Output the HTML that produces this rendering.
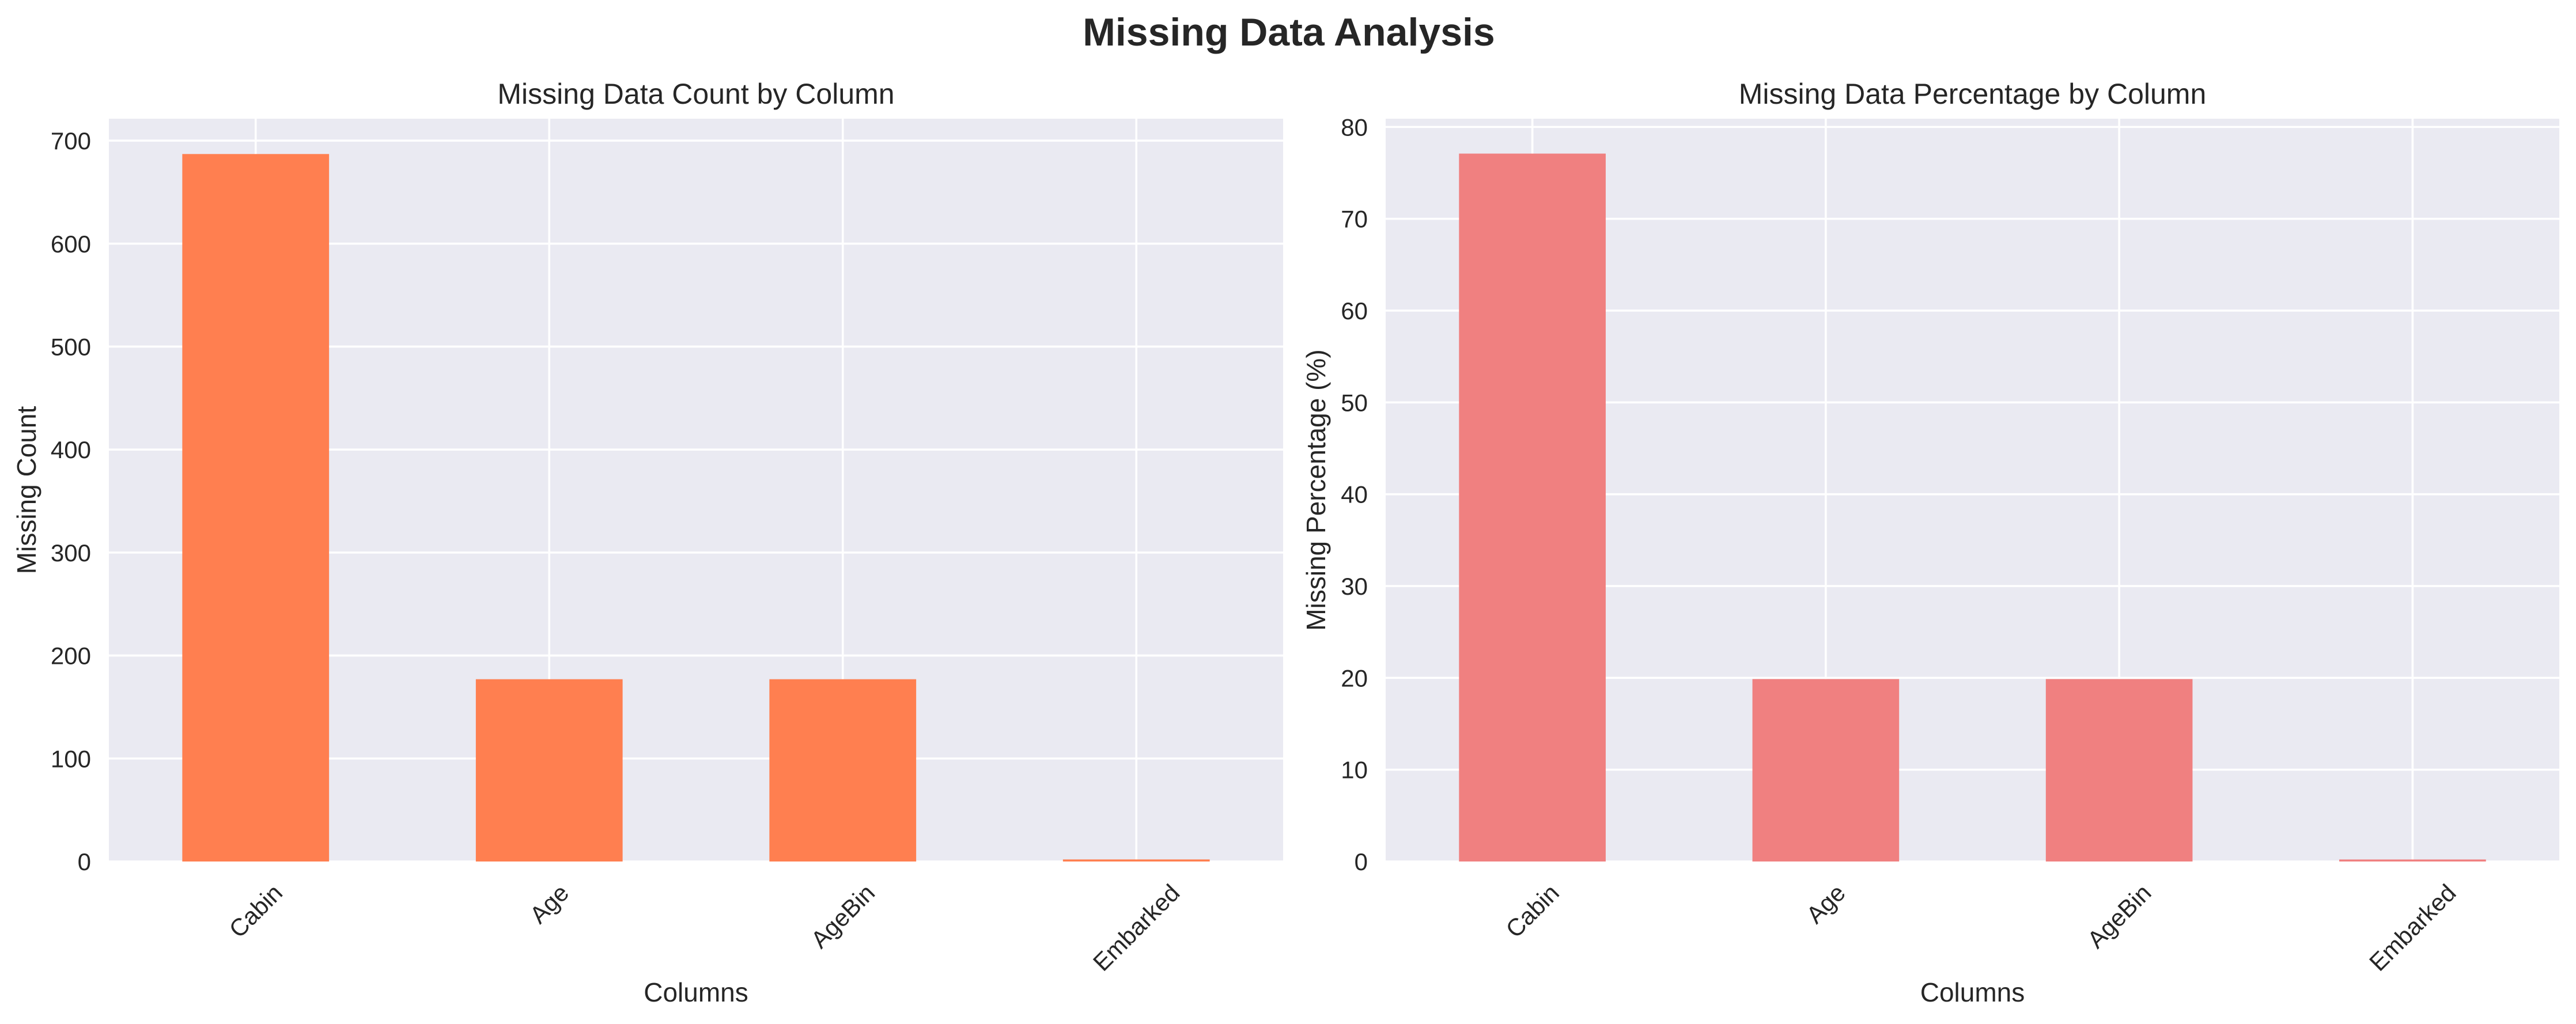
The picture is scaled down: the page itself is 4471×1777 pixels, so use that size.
<!DOCTYPE html>
<html><head><meta charset="utf-8">
<style>
html,body{margin:0;padding:0;background:#fff;}
svg{display:block;font-family:"Liberation Sans",Arial,sans-serif;}
</style></head>
<body>
<svg id="chart" width="4471" height="1777" viewBox="0 0 4471 1777" xmlns="http://www.w3.org/2000/svg">
<text x="2237" y="79" text-anchor="middle" font-size="68" font-weight="bold" fill="#262626">Missing Data Analysis</text>
</svg>
<script>
const categories = ["Cabin", "Age", "AgeBin", "Embarked"];
const countValues = [687, 177, 177, 2];
const pctValues = [77.10, 19.87, 19.87, 0.22];
const countTicks = [0, 100, 200, 300, 400, 500, 600, 700];
const pctTicks = [0, 10, 20, 30, 40, 50, 60, 70, 80];

const NS = "http://www.w3.org/2000/svg";
const svg = document.getElementById("chart");
function mk(tag, attrs, parent) {
  const e = document.createElementNS(NS, tag);
  for (const k in attrs) e.setAttribute(k, attrs[k]);
  (parent || svg).appendChild(e);
  return e;
}

function panel(cfg) {
  const g = mk("g", {});
  
  
  const L = cfg.left, R = cfg.right, T = 206, B = 1495;
  const yScale = v => B - (v / cfg.ymax) * (B - T);
  const band = (R - L) / categories.length;
  const xCenter = i => L + band * (i + 0.5);

  const bg = mk("rect", {x: L, y: T, width: R - L, height: B - T, fill: "#EAEAF2"}, g);
  
  

  cfg.ticks.forEach(t => {
    const y = yScale(t);
    const gl = mk("line", {x1: L, x2: R, y1: y, y2: y, stroke: "#fff", "stroke-width": 3.6}, g);
    
    
    const tl = mk("text", {x: cfg.tickX, y: y + 15, "text-anchor": "end", "font-size": 42, fill: "#262626"}, g);
    tl.textContent = t;
    
    
  });
  categories.forEach((c, i) => {
    const x = xCenter(i);
    const gl = mk("line", {x1: x, x2: x, y1: T, y2: B, stroke: "#fff", "stroke-width": 3.6}, g);
    
    
  });
  cfg.values.forEach((v, i) => {
    const w = band * 0.5;
    const y = yScale(v);
    const bar = mk("rect", {x: xCenter(i) - w / 2, y: y, width: w, height: B - y, fill: cfg.color}, g);
    
    
  });
  categories.forEach((c, i) => {
    const x = xCenter(i);
    const t = mk("text", {"font-size": 42, fill: "#262626", "text-anchor": "middle", "dominant-baseline": "central"}, g);
    t.textContent = c;
    
    
    const w = t.getComputedTextLength ? t.getComputedTextLength() : c.length * 22;
    const cy = 1530 + (w + 34) * 0.7071 / 2;
    t.setAttribute("x", x);
    t.setAttribute("y", cy);
    t.setAttribute("transform", "rotate(-45 " + x + " " + cy + ")");
  });
  const title = mk("text", {x: (L + R) / 2, y: 180, "text-anchor": "middle", "font-size": 50, fill: "#262626"}, g);
  title.textContent = cfg.title;
  
  
  const xl = mk("text", {x: (L + R) / 2, y: 1738, "text-anchor": "middle", "font-size": 46, fill: "#262626"}, g);
  xl.textContent = "Columns";
  
  
  const cyl = (T + B) / 2;
  const yl = mk("text", {x: cfg.ylabelX, y: cyl, "text-anchor": "middle", "font-size": 46, fill: "#262626", transform: "rotate(-90 " + cfg.ylabelX + " " + cyl + ")"}, g);
  yl.textContent = cfg.ylabel;
  
  
}

panel({name: "count-panel", left: 189, right: 2227, ymax: 721.3, ticks: countTicks, values: countValues,
  color: "#FF7F50", tickX: 158, title: "Missing Data Count by Column", ylabel: "Missing Count", ylabelX: 62});
panel({name: "percentage-panel", left: 2405, right: 4442, ymax: 80.9, ticks: pctTicks, values: pctValues,
  color: "#F08080", tickX: 2374, title: "Missing Data Percentage by Column", ylabel: "Missing Percentage (%)", ylabelX: 2300});
</script>
</body></html>
